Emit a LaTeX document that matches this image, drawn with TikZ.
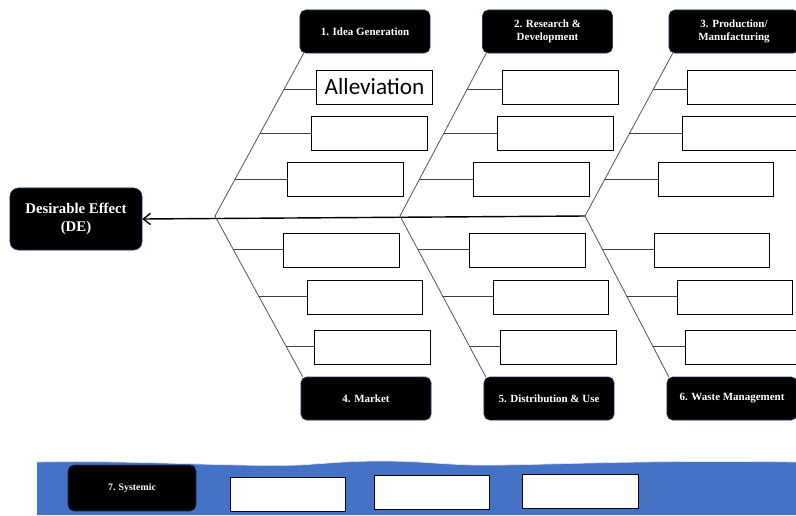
\documentclass[tikz,border=0pt]{standalone}
\usepackage{fontspec}
\setmainfont{Liberation Serif}
\newfontfamily\labelfont{Liberation Serif}
\newfontfamily\calibri{Carlito}
\usepackage{tikz}
\usetikzlibrary{arrows.meta, positioning}

\definecolor{bandblue}{HTML}{4472C4}
\definecolor{causeedge}{HTML}{1F3864}

\begin{document}
\begin{tikzpicture}[x=0.025cm, y=-0.025cm,
                    cause/.style={draw=causeedge, fill=black, rounded corners=4pt, text=white,
                                  minimum width=3.25cm, minimum height=1.075cm, align=center,
                                  font=\labelfont\fontsize{7.8}{9}\selectfont\bfseries},
                    slot/.style={draw=black, fill=white, line width=0.7pt,
                                 minimum width=2.875cm, minimum height=0.85cm},
                    bone/.style={draw=black!65, line width=0.6pt},
                    twig/.style={draw=black!75, line width=0.6pt}]
                \useasboundingbox (0,0) rectangle (796,515);
                % wavy band along the bottom
                \fill[bandblue] (37,462) .. controls (140,460) and (230,467) .. (300,465)
                        .. controls (330,463) and (350,461) .. (380,461)
                        .. controls (430,461) and (450,466) .. (500,465)
                        .. controls (570,464) and (650,460) .. (796,462)
                        -- (796,515) -- (37,515) -- cycle;
                \draw[white!80!gray, line width=0.5pt] (37,462) .. controls (140,460) and (230,467) .. (300,465)
                        .. controls (330,463) and (350,461) .. (380,461)
                        .. controls (430,461) and (450,466) .. (500,465)
                        .. controls (570,464) and (650,460) .. (796,462);

                % effect and causes
                \node[cause, minimum width=3.3cm, minimum height=1.55cm, rounded corners=6pt,
                      font=\labelfont\fontsize{10.5}{12.5}\selectfont\bfseries] (de) at (76,219) {Desirable Effect\\(DE)};
                \node[cause] (c1) at (365,31.5) {1. Idea Generation};
                \node[cause] (c2) at (547.5,31.5) {2. Research \&\\Development};
                \node[cause] (c3) at (734,31.5) {3. Production/\\Manufacturing};
                \node[cause] (c4) at (366,398.5) {4. Market};
                \node[cause] (c5) at (549,398.5) {5. Distribution \& Use};
                \node[cause] (c6) at (732,398.5) {6. Waste Management};
                \node[cause, minimum width=3.2cm, minimum height=1.15cm,
                      font=\labelfont\fontsize{7}{8}\selectfont\bfseries] (c7) at (132,488) {7. Systemic};

                % spine
                \coordinate (j1) at (215,216);
                \coordinate (j2) at (400,216);
                \coordinate (j3) at (585,216);
                \draw[line width=1pt, -{Straight Barb[length=5pt, width=8pt]}] (j3) -- (de.east);

                % bones with their slots
                \foreach \k/\up/\dn/\dx in {1/c1/c4/0, 2/c2/c5/186, 3/c3/c6/370}{
                        \draw[bone] (j\k) -- ([xshift=0.1cm]\up.south west)
                                coordinate[pos=0.78] (t\k a)
                                coordinate[pos=0.506] (t\k b)
                                coordinate[pos=0.226] (t\k c);
                        \draw[bone] (j\k) -- ([xshift=0.05cm]\dn.north west)
                                coordinate[pos=0.21] (b\k a)
                                coordinate[pos=0.5] (b\k b)
                                coordinate[pos=0.81] (b\k c);
                        \node[slot] (st\k a) at (374.5+\dx,87) {};
                        \node[slot] (st\k b) at (369.5+\dx,133.5) {};
                        \node[slot] (st\k c) at (345.5+\dx,179) {};
                        \node[slot] (sb\k a) at (341.5+\dx,250) {};
                        \node[slot] (sb\k b) at (365+\dx,297) {};
                        \node[slot] (sb\k c) at (372.5+\dx,347) {};
                        \foreach \s in {a,b,c}{
                                \draw[twig] (t\k\s) -- (t\k\s -| st\k\s.west);
                                \draw[twig] (b\k\s) -- (b\k\s -| sb\k\s.west);
                            }
                    }
                \node[font=\calibri\fontsize{16.5}{18}\selectfont] at (st1a) {Alleviation};

                % systemic slots
                \node[slot] (sy1) at (288,494) {};
                \node[slot] (sy2) at (432,492.5) {};
                \node[slot] (sy3) at (580.5,491) {};
            \end{tikzpicture}
\end{document}
